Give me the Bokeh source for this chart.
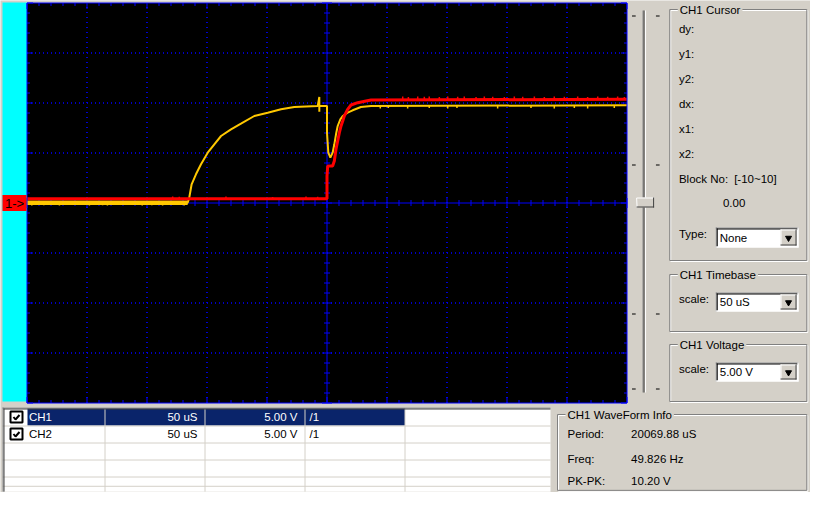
import numpy as np
from bokeh.plotting import figure
from bokeh.models import Range1d
from bokeh.core.properties import value
from bokeh.embed import file_html
from bokeh.resources import INLINE

# CH1 (red) trace: time in uS from the left edge of the screen, level in V
ch1_t = [0, 250, 250, 250.6, 254.7, 256.1, 257.5, 258.9, 260.3, 261.7,
         263.1, 264.4, 267.2, 270.0, 275.6, 282.5, 286.7, 500]
ch1_v = [0.43, 0.43, 2.7, 3.7, 3.7, 4.2, 5.37, 6.2, 7.03, 7.7,
         8.2, 8.7, 9.37, 9.8, 10.03, 10.2, 10.3, 10.37]
# single-sample glitches on CH1
ch1_glitch_t = [121.4, 126.9, 165.8, 204.7, 232.5, 242.2,
                313.1, 317.8, 325.6, 331.1, 335.2, 343.6, 350.6, 358.9, 364.4,
                374.2, 381.1, 388.1, 397.8, 406.1, 413.1, 422.8, 431.1, 439.4,
                447.8, 458.9, 467.2, 475.6, 483.9, 492.2, 497.8]
ch1_glitch_lo = [0.43, 0.43, 0.43, 0.43, 0.43, 0.43,
                 10.37, 10.37, 10.37, 10.37, 10.37, 10.37, 10.37, 10.37, 10.37,
                 10.37, 10.37, 10.37, 10.37, 10.37, 10.37, 10.37, 10.37, 10.37,
                 10.37, 10.37, 10.37, 10.37, 10.37, 10.37, 10.37]
ch1_glitch_hi = [0.65, 0.62, 0.65, 0.6, 0.65, 0.62,
                 10.65, 10.6, 10.65, 10.62, 10.65, 10.6, 10.65, 10.62, 10.65,
                 10.6, 10.65, 10.62, 10.6, 10.65, 10.62, 10.65, 10.6, 10.65,
                 10.62, 10.65, 10.6, 10.65, 10.62, 10.65, 10.6]

# CH2 (yellow) trace
ch2_t = [0, 133.9, 135.2, 137.2, 140.8, 145.0, 150.6, 156.1, 161.7, 170.0,
         178.3, 189.4, 200.6, 211.7, 222.8, 242.3, 243.6, 243.6, 243.6, 249.6,
         250, 250, 251.1, 252.8, 254.7, 256.1, 257.5, 258.9, 261.1, 263.1,
         267.2, 271.4, 278.3, 286.7, 500]
ch2_v = [0.03, 0.03, 0.53, 1.87, 2.87, 3.87, 5.03, 5.87, 6.7, 7.37,
         7.93, 8.7, 9.03, 9.37, 9.6, 9.7, 10.6, 9.13, 9.7, 9.7,
         9.7, 7.03, 5.03, 4.53, 5.03, 5.87, 6.87, 7.7, 8.37, 8.7,
         9.03, 9.27, 9.6, 9.7, 9.77]
ch2_glitch_t = [4, 14, 27, 38, 52, 63, 67, 81, 96, 104, 113, 124, 131,
                294.4, 301.1, 317.2, 335.2, 350.6, 358.3, 392.2, 420.0,
                439.4, 456.1, 467.2, 489.4]
ch2_glitch_lo = [-0.25, -0.22, -0.25, -0.2, -0.25, -0.22, -0.25, -0.2, -0.25,
                 -0.22, -0.25, -0.2, -0.25,
                 9.45, 9.5, 9.45, 9.5, 9.45, 9.5, 9.45, 9.5, 9.45, 9.5, 9.45, 9.5]
ch2_glitch_hi = [0.03, 0.03, 0.03, 0.03, 0.03, 0.03, 0.03, 0.03, 0.03,
                 0.03, 0.03, 0.03, 0.03,
                 9.77, 9.77, 9.77, 9.77, 9.77, 9.77, 9.77, 9.77, 9.77, 9.77,
                 9.77, 9.77]

# scope settings
time_div = 50      # uS / div
volt_div = 5.0     # V / div
n_xdiv = 10
n_ydiv = 8
ch1_offset = 0.0

# channel table
row_names = ["CH1", "CH2"]
row_timebase = ["50 uS", "50 uS"]
row_volts = ["5.00 V", "5.00 V"]
row_probe = ["/1", "/1"]

# side panels
cursor_labels = ["dy:", "y1:", "y2:", "dx:", "x1:", "x2:"]
info_labels = ["Period:", "Freq:", "PK-PK:"]
info_values = ["20069.88 uS", "49.826 Hz", "10.20 V"]

FACE = "#D4D0C8"
SHADOW = "#808080"
DARK = "#404040"
NAVY = "#0A246A"
SCOPE_BLUE = "#0000FF"
CH1_COLOR = "#FF0000"
CH2_COLOR = "#FFC800"
FONT = value("Liberation Sans")
FSIZE = value("11.5px")

W, H = 810, 492
L, R, T, B = 26.5, 626.5, 2.5, 402.5   # scope screen rectangle in pixels


def ux(x):
    # the side panel is squeezed a little to fit the page
    return x if x <= 626 else 626 + (x - 626) * 0.92


def uy(y):
    return y if y <= 480 else 480 + (y - 480) * 12 / 28


p = figure(width=W, height=H, x_range=Range1d(0, W), y_range=Range1d(H, 0),
           output_backend="svg", toolbar_location=None, min_border=0,
           x_axis_location=None, y_axis_location=None,
           background_fill_color=FACE, border_fill_color=FACE,
           outline_line_color=None)
p.grid.visible = False

t0, t1 = 0, time_div * n_xdiv
v0, v1 = -volt_div * n_ydiv / 2, volt_div * n_ydiv / 2
tpp = (t1 - t0) / (R - L)
vpp = (v1 - v0) / (B - T)
p.extra_x_ranges = {"t": Range1d(t0 - L * tpp, t1 + (W - R) * tpp)}
p.extra_y_ranges = {"v": Range1d(v0 - (H - B) * vpp, v1 + T * vpp)}
S = dict(x_range_name="t", y_range_name="v")


def txt(x, y, s, align="left", color="black", **kw):
    p.text(x=[ux(a) for a in x], y=[uy(b) for b in y], text=s, text_font=FONT,
           text_font_size=FSIZE, text_align=align, text_baseline="middle",
           text_color=color, **kw)


def box(l, t, r, b, **kw):
    p.quad(left=[l], right=[r], top=[t], bottom=[b], **kw)


# ---- scope screen ----
box(2, 2, L, 401, fill_color="#00FFFF", line_color=None)
p.quad(left=[t0], right=[t1], bottom=[v0], top=[v1], fill_color="black", line_color=None, **S)

tc, vc = (t0 + t1) / 2, (v0 + v1) / 2
tg = [t for t in np.arange(t0, t1 + 1, time_div) if t0 < t < t1 and t != tc]
vg = [v for v in np.arange(v0, v1 + 0.1, volt_div) if v0 < v < v1 and v != vc]
p.segment(x0=tg, y0=v0, x1=tg, y1=v1, line_color=SCOPE_BLUE, line_dash="1 4", line_width=1.6, **S)
p.segment(x0=t0, y0=vg, x1=t1, y1=vg, line_color=SCOPE_BLUE, line_dash="1 3", line_width=1.6, **S)
p.segment(x0=[tc, t0], y0=[v0, vc], x1=[tc, t1], y1=[v1, vc], line_color=SCOPE_BLUE, line_width=1, **S)

t_minor = np.arange(t0, t1 + 1, time_div / 5)
v_minor = np.arange(v0, v1 + 0.1, volt_div / 5)
t_big = np.isclose(np.mod(t_minor - t0, time_div), 0)
v_big = np.isclose(np.mod(v_minor - v0, volt_div), 0)
lt = np.where(t_big, 6, 3) * vpp
lv = np.where(v_big, 6, 3) * tpp
ct = np.where(t_big, 5, 3) * vpp
cv = np.where(v_big, 5, 3) * tpp
xs0 = np.concatenate([t_minor, t_minor, np.full_like(v_minor, t0), np.full_like(v_minor, t1),
                      t_minor, tc - cv])
xs1 = np.concatenate([t_minor, t_minor, t0 + lv, t1 - lv, t_minor, tc + cv])
ys0 = np.concatenate([np.full_like(t_minor, v1), np.full_like(t_minor, v0), v_minor, v_minor,
                      vc - ct, v_minor])
ys1 = np.concatenate([v1 - lt, v0 + lt, v_minor, v_minor, vc + ct, v_minor])
p.segment(x0=xs0, y0=ys0, x1=xs1, y1=ys1, line_color=SCOPE_BLUE, line_width=1, **S)

# traces
p.line(ch2_t[:2], ch2_v[:2], line_color=CH2_COLOR, line_width=4.5, **S)
p.line(ch2_t, ch2_v, line_color=CH2_COLOR, line_width=2, **S)
p.segment(x0=ch2_glitch_t, y0=ch2_glitch_lo, x1=ch2_glitch_t, y1=ch2_glitch_hi,
          line_color=CH2_COLOR, line_width=1.5, **S)
p.line(ch1_t, ch1_v, line_color=CH1_COLOR, line_width=3, **S)
p.segment(x0=ch1_glitch_t, y0=ch1_glitch_lo, x1=ch1_glitch_t, y1=ch1_glitch_hi,
          line_color=CH1_COLOR, line_width=1.5, **S)

p.quad(left=[t0], right=[t1], bottom=[v0], top=[v1], fill_color=None,
       line_color=SCOPE_BLUE, line_width=1, **S)

# CH1 level marker
p.quad(left=[2], right=[L - 0.5], bottom=[ch1_offset - 0.8], top=[ch1_offset + 0.8],
       fill_color=CH1_COLOR, line_color=None, y_range_name="v")
p.text(x=[4.5], y=[ch1_offset], text=["1->"], text_font=FONT, text_font_size=value("13px"),
       text_baseline="middle", text_color="black", y_range_name="v")

# ---- vertical slider ----
for yy in [15.5, 164.5, 313.5, 388.5]:
    p.segment(x0=[ux(632), ux(658)], y0=[yy, yy], x1=[ux(636), ux(662)], y1=[yy, yy],
              line_color="black", line_width=1)
sx = ux(644)
p.segment(x0=[sx, sx + 1, sx + 2.5], y0=10, x1=[sx, sx + 1, sx + 2.5], y1=392,
          line_color=[SHADOW, DARK, "white"], line_width=1)
tl_, tr_ = ux(637), ux(656)
box(tl_, 197, tr_, 207, fill_color=FACE, line_color=None)
p.segment(x0=[tl_, tl_], y0=[197.5, 197.5], x1=[tr_, tl_ + 0.5], y1=[197.5, 207], line_color="white")
p.segment(x0=[tl_, tr_ - 0.5], y0=[206.5, 197], x1=[tr_, tr_ - 0.5], y1=[206.5, 207], line_color=DARK)


def group_box(l, t, r, b, title):
    l, t, r, b = ux(l), uy(t), ux(r), uy(b)
    box(l + 1, t + 1, r + 1, b + 1, fill_color=None, line_color="white")
    box(l, t, r, b, fill_color=None, line_color=SHADOW)
    p.text(x=[l + 8], y=[t], text=[title], text_font=FONT, text_font_size=FSIZE,
           text_baseline="middle", background_fill_color=FACE, padding=2)


def combo(l, t, r, b, label):
    l, t, r, b = ux(l), uy(t), ux(r), uy(b)
    box(l, t, r, b, fill_color="white", line_color=None)
    p.segment(x0=[l, l + 0.5], y0=[t + 0.5, t], x1=[r, l + 0.5], y1=[t + 0.5, b], line_color=SHADOW)
    p.segment(x0=[l + 1, l + 1.5], y0=[t + 1.5, t + 1], x1=[r - 1, l + 1.5], y1=[t + 1.5, b - 1],
              line_color="black")
    p.segment(x0=[l, r - 0.5], y0=[b - 0.5, t], x1=[r, r - 0.5], y1=[b - 0.5, b], line_color="white")
    bl, br, bt, bb = r - 18, r - 2, t + 2, b - 2
    box(bl, bt, br, bb, fill_color=FACE, line_color=None)
    p.segment(x0=[bl, bl + 0.5], y0=[bt + 0.5, bt], x1=[br, bl + 0.5], y1=[bt + 0.5, bb], line_color="white")
    p.segment(x0=[bl, br - 0.5], y0=[bb - 0.5, bt], x1=[br, br - 0.5], y1=[bb - 0.5, bb], line_color=DARK)
    p.scatter(x=[(bl + br) / 2], y=[(bt + bb) / 2 + 0.5], marker="inverted_triangle", size=6,
              fill_color="black", line_color="black")
    p.text(x=[l + 4], y=[(t + b) / 2], text=[label], text_font=FONT, text_font_size=FSIZE,
           text_baseline="middle")


# cursor panel
group_box(673, 9, 822, 260, "CH1 Cursor")
txt([683] * len(cursor_labels), [28 + 25 * i for i in range(len(cursor_labels))], cursor_labels)
txt([683], [178], ["Block No:"])
txt([743], [178], ["[-10~10]"])
txt([743], [202], ["0.00"], align="center")
txt([683], [233], ["Type:"])
combo(723, 227, 813, 247, "None")

group_box(673, 274, 822, 331, "CH1 Timebase")
txt([683], [298], ["scale:"])
combo(723, 292, 813, 311, "50 uS")

group_box(673, 344, 822, 401, "CH1 Voltage")
txt([683], [368], ["scale:"])
combo(723, 362, 813, 381, "5.00 V")

# waveform info
group_box(557, 414, 822, 503, "CH1 WaveForm Info")
txt([567] * 3, [433, 458, 482], info_labels)
txt([631] * 3, [433, 458, 482], info_values)

# ---- channel table ----
TL, TR, TT, TB = 2, 550, 407, 506
ROW_H = 17
col_x = [104.5, 204.5, 304.5, 404.5]
box(TL, TT, TR, uy(TB), fill_color="white", line_color=None)
box(27, TT + 1, col_x[3], TT + 1 + ROW_H, fill_color=NAVY, line_color=None)
row_lines = [uy(TT + 1.5 + ROW_H * (i + 1)) for i in range(5)]
p.segment(x0=TL, y0=row_lines, x1=TR, y1=row_lines, line_color=FACE, line_width=1)
p.segment(x0=col_x, y0=TT + 1, x1=col_x, y1=uy(TB), line_color=FACE, line_width=1)
p.segment(x0=[TL, TL + 0.5], y0=[TT + 0.5, TT], x1=[TR, TL + 0.5], y1=[TT + 0.5, uy(TB)], line_color=SHADOW)
p.segment(x0=[TL + 1, TL + 1.5], y0=[TT + 1.5, TT + 1], x1=[TR, TL + 1.5], y1=[TT + 1.5, uy(TB)],
          line_color=DARK)

rc = [TT + 1 + ROW_H * i + ROW_H / 2 for i in range(len(row_names))]
fg = ["white" if i == 0 else "black" for i in range(len(row_names))]
p.quad(left=10, right=22, top=[c - 5.5 for c in rc], bottom=[c + 5.5 for c in rc],
       fill_color="white", line_color="black", line_width=2)
p.multi_line(xs=[[13, 15, 19]] * len(rc), ys=[[c, c + 2.5, c - 2] for c in rc],
             line_color="black", line_width=2)
p.text(x=28.5, y=rc, text=row_names, text_color=fg, text_font=FONT, text_font_size=FSIZE,
       text_baseline="middle")
p.text(x=197, y=rc, text=row_timebase, text_color=fg, text_font=FONT, text_font_size=FSIZE,
       text_baseline="middle", text_align="right")
p.text(x=297, y=rc, text=row_volts, text_color=fg, text_font=FONT, text_font_size=FSIZE,
       text_baseline="middle", text_align="right")
p.text(x=309, y=rc, text=row_probe, text_color=fg, text_font=FONT, text_font_size=FSIZE,
       text_baseline="middle")

open("out.html", "w").write(file_html(p, INLINE))
